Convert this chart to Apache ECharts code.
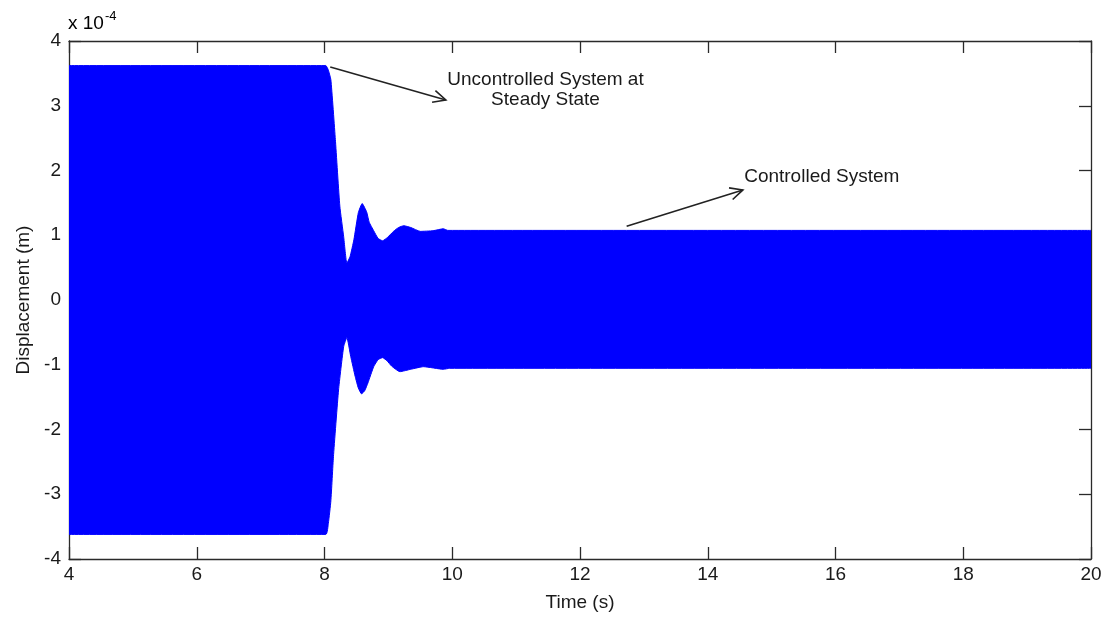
<!DOCTYPE html>
<html>
<head>
<meta charset="utf-8">
<script src="https://cdn.jsdelivr.net/npm/echarts@6/dist/echarts.min.js"></script>
<style>html,body{margin:0;padding:0;background:#fff;}#c{width:1106px;height:621px;}</style>
</head>
<body>
<div id="c"></div>
<script>
// Envelope of the displacement response (units of 1e-4 m)
var upperTime = [4, 8.02, 8.06, 8.10, 8.17, 8.24, 8.30, 8.35, 8.40, 8.46, 8.53, 8.59, 8.66, 8.70, 8.77, 8.84, 8.91, 8.99, 9.08, 9.16, 9.24, 9.35, 9.50, 9.70, 9.86, 9.93, 20];
var upperDisp = [3.62, 3.62, 3.55, 3.40, 2.48, 1.45, 0.98, 0.57, 0.67, 0.93, 1.35, 1.49, 1.36, 1.20, 1.07, 0.95, 0.915, 0.97, 1.06, 1.12, 1.147, 1.12, 1.06, 1.07, 1.10, 1.075, 1.075];
var lowerTime = [4, 8.02, 8.06, 8.10, 8.14, 8.22, 8.30, 8.35, 8.41, 8.48, 8.53, 8.58, 8.63, 8.68, 8.77, 8.84, 8.91, 8.98, 9.05, 9.18, 9.35, 9.55, 9.86, 9.96, 20];
var lowerDisp = [-3.62, -3.62, -3.45, -3.10, -2.42, -1.39, -0.72, -0.58, -0.87, -1.18, -1.36, -1.45, -1.40, -1.28, -1.03, -0.92, -0.89, -0.94, -1.02, -1.107, -1.07, -1.03, -1.07, -1.055, -1.055];

var xTicks = [4, 6, 8, 10, 12, 14, 16, 18, 20];
var yTicks = [-4, -3, -2, -1, 0, 1, 2, 3, 4];

// Annotations: [text lines], text anchor, arrow start/end in data coords
var annoUncontrolled = { lines: ['Uncontrolled System at', 'Steady State'], pos: [11.46, 3.56], from: [8.09, 3.60], to: [9.90, 3.09] };
var annoControlled = { lines: ['Controlled System'], pos: [14.57, 1.90], from: [12.73, 1.14], to: [14.55, 1.70] };

var FONT = 'Liberation Sans, Arial, sans-serif';
var TXT = '#1a1a1a';
var AX = '#2a2a2a';

function pairs(t, v) { return t.map(function (x, i) { return [x, v[i]]; }); }

var chart = echarts.init(document.getElementById('c'), null, { renderer: 'canvas' });

var axisCommon = {
  type: 'value',
  axisLine: { show: true, onZero: false, lineStyle: { color: AX, width: 1.3 } },
  axisTick: { show: true, inside: true, length: 12, lineStyle: { color: AX, width: 1.3 } },
  splitLine: { show: false }
};

chart.setOption({
  animation: false,
  backgroundColor: '#fff',
  grid: { left: 69, right: 15, top: 41, bottom: 62 },
  xAxis: [
    Object.assign({}, axisCommon, {
      position: 'bottom', min: xTicks[0], max: xTicks[xTicks.length - 1], interval: 2,
      name: 'Time (s)', nameLocation: 'middle', nameGap: 34,
      nameTextStyle: { fontFamily: FONT, fontSize: 19, color: TXT },
      axisLabel: { fontFamily: FONT, fontSize: 19, color: TXT, margin: 6 }
    }),
    Object.assign({}, axisCommon, {
      position: 'top', min: xTicks[0], max: xTicks[xTicks.length - 1], interval: 2,
      axisLabel: { show: false }
    })
  ],
  yAxis: [
    Object.assign({}, axisCommon, {
      position: 'left', min: yTicks[0], max: yTicks[yTicks.length - 1], interval: 1,
      name: 'Displacement (m)', nameLocation: 'middle', nameGap: 36, nameRotate: 90,
      nameTextStyle: { fontFamily: FONT, fontSize: 19, color: TXT },
      axisLabel: { fontFamily: FONT, fontSize: 19, color: TXT, margin: 8 }
    }),
    Object.assign({}, axisCommon, {
      position: 'right', min: yTicks[0], max: yTicks[yTicks.length - 1], interval: 1,
      axisLabel: { show: false }
    })
  ],
  series: [
    {
      type: 'line', data: pairs(upperTime, upperDisp), showSymbol: false, symbol: 'none',
      smooth: 0.15,
      lineStyle: { color: '#0000ff', width: 1 },
      areaStyle: { color: '#0000ff', opacity: 1, origin: 0 }
    },
    {
      type: 'line', data: pairs(lowerTime, lowerDisp), showSymbol: false, symbol: 'none',
      smooth: 0.15,
      lineStyle: { color: '#0000ff', width: 1 },
      areaStyle: { color: '#0000ff', opacity: 1, origin: 0 }
    }
  ]
});

function px(p) { return chart.convertToPixel({ xAxisIndex: 0, yAxisIndex: 0 }, p); }

function arrow(a) {
  var s = px(a.from), e = px(a.to);
  var ang = Math.atan2(e[1] - s[1], e[0] - s[0]);
  var L = 14, spread = 0.45;
  var w1 = [e[0] - L * Math.cos(ang - spread), e[1] - L * Math.sin(ang - spread)];
  var w2 = [e[0] - L * Math.cos(ang + spread), e[1] - L * Math.sin(ang + spread)];
  return [
    { type: 'line', shape: { x1: s[0], y1: s[1], x2: e[0], y2: e[1] }, style: { stroke: '#222', lineWidth: 1.6 }, z: 100 },
    { type: 'polyline', shape: { points: [w1, e, w2] }, style: { stroke: '#222', lineWidth: 1.6, fill: null }, z: 100 }
  ];
}

var g = [];
g = g.concat(arrow(annoUncontrolled), arrow(annoControlled));
var p1 = px(annoUncontrolled.pos);
g.push({ type: 'text', x: p1[0], y: p1[1], z: 100,
  style: { text: annoUncontrolled.lines.join('\n'), fontFamily: FONT, fontSize: 19, fill: TXT, align: 'center', verticalAlign: 'top', lineHeight: 20 } });
var p2 = px(annoControlled.pos);
g.push({ type: 'text', x: p2[0], y: p2[1], z: 100,
  style: { text: annoControlled.lines.join('\n'), fontFamily: FONT, fontSize: 19, fill: TXT, align: 'left', verticalAlign: 'middle' } });
// exponent label
var tl = px([xTicks[0], yTicks[yTicks.length - 1]]);
g.push({ type: 'text', x: tl[0] - 1, y: tl[1] - 4, z: 100,
  style: { text: '{a|x 10}{b|-4}', verticalAlign: 'bottom', align: 'left',
    rich: { a: { fontFamily: FONT, fontSize: 19, color: TXT }, b: { fontFamily: FONT, fontSize: 13, color: TXT, verticalAlign: 'top', padding: [0, 0, 14, 1] } } } });

chart.setOption({ graphic: g });
</script>
</body>
</html>
